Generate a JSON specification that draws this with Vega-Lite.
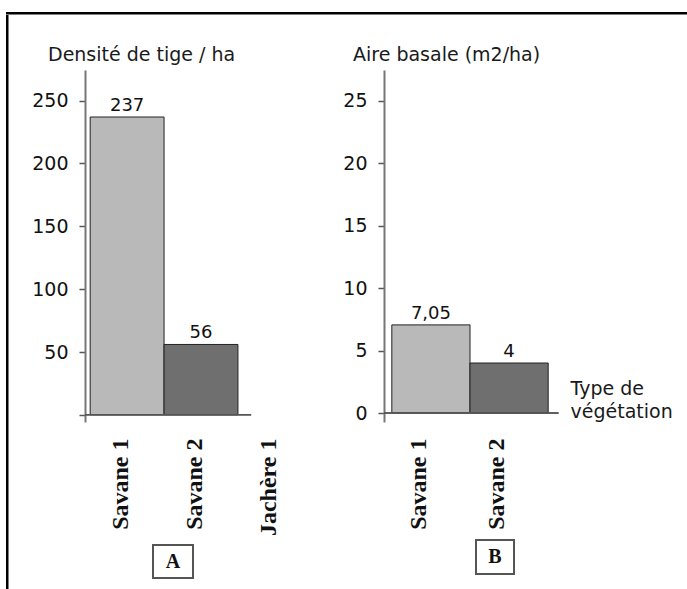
{
  "$schema": "https://vega.github.io/schema/vega-lite/v6.json",
  "padding": {"left": 6, "top": 12, "right": 0, "bottom": 0},
  "background": "white",
  "config": {
    "locale": {"number": {"decimal": ",", "thousands": " ", "grouping": [3], "currency": ["", " €"]}},
    "font": "DejaVu Sans",
    "view": {"stroke": null},
    "concat": {"spacing": 0}
  },
  "vconcat": [
    {
      "width": 681, "height": 2.5,
      "view": {"fill": "black", "stroke": null},
      "data": {"values": []},
      "mark": "text",
      "encoding": {}
    },
    {
      "spacing": 22,
      "hconcat": [
        {
          "width": 2.5, "height": 575,
          "view": {"fill": "black", "stroke": null},
          "data": {"values": []},
          "mark": "text",
          "encoding": {}
        },
        {
          "spacing": 30,
          "vconcat": [
            {
              "width": 1, "height": 1,
              "data": {"values": []},
              "mark": "text",
              "encoding": {}
            },
            {
              "spacing": 25,
              "hconcat": [
                {
                  "spacing": 8,
                  "vconcat": [
                    {
                      "width": 232, "height": 352,
                      "title": {"text": "Densité de tige / ha", "anchor": "start", "frame": "group", "dx": -37, "offset": -10, "baseline": "alphabetic", "font": "DejaVu Sans", "fontSize": 19, "fontWeight": "normal", "color": "#1a1a1a"},
                      "data": {"values": [
                        {"type": "Savane 1", "densite": 237},
                        {"type": "Savane 2", "densite": 56}
                      ]},
                      "resolve": {"scale": {"x": "independent"}},
                      "layer": [
                        {
                          "encoding": {
                            "x": {"field": "type", "type": "nominal", "sort": null,
                              "scale": {"domain": ["Savane 1", "Savane 2", "Jachère 1"], "paddingInner": 0, "paddingOuter": 0.07},
                              "axis": {"title": null, "domain": false, "ticks": false, "labelAngle": 270, "labelAlign": "right", "labelBaseline": "middle", "labelPadding": 16, "labelOffset": -6, "labelFont": "Liberation Serif", "labelFontWeight": "bold", "labelFontSize": 24, "labelColor": "#111"}},
                            "y": {"field": "densite", "type": "quantitative",
                              "scale": {"domain": [-5.7, 274.4], "nice": false, "zero": false},
                              "axis": {"title": null, "grid": false, "values": [0, 50, 100, 150, 200, 250], "labelExpr": "datum.value === 0 ? '' : datum.label", "domainColor": "#777", "domainWidth": 2, "tickColor": "#555", "tickWidth": 1.5, "tickSize": 6, "labelPadding": 11, "labelFont": "DejaVu Sans", "labelFontSize": 19, "labelColor": "#111"}}
                          },
                          "layer": [
                            {
                              "mark": {"type": "bar", "stroke": "#222", "strokeWidth": 1},
                              "encoding": {
                                "y2": {"datum": 0},
                                "color": {"field": "type", "type": "nominal", "scale": {"domain": ["Savane 1", "Savane 2"], "range": ["#b9b9b9", "#6f6f6f"]}, "legend": null}
                              }
                            },
                            {
                              "mark": {"type": "text", "baseline": "alphabetic", "dy": -6, "font": "DejaVu Sans", "fontSize": 18, "color": "#111"},
                              "encoding": {
                                "text": {"field": "densite", "type": "quantitative", "format": "~g"}
                              }
                            }
                          ]
                        },
                        {
                          "mark": {"type": "rule", "color": "#555", "strokeWidth": 1.5},
                          "encoding": {
                            "x": {"datum": 0, "type": "quantitative", "scale": {"domain": [0, 1]}, "axis": null},
                            "x2": {"datum": 0.716},
                            "y": {"datum": 0, "type": "quantitative"}
                          }
                        }
                      ]
                    },
                    {
                      "hconcat": [
                        {
                          "width": 67, "height": 1,
                          "data": {"values": []},
                          "mark": "text",
                          "encoding": {}
                        },
                        {
                          "width": 40, "height": 33,
                          "view": {"stroke": "#555", "strokeWidth": 2, "fill": "white"},
                          "data": {"values": [{"label": "A"}]},
                          "mark": {"type": "text", "font": "Liberation Serif", "fontWeight": "bold", "fontSize": 20, "color": "#111", "baseline": "middle", "align": "center"},
                          "encoding": {"text": {"field": "label"}}
                        }
                      ]
                    }
                  ]
                },
                {
                  "spacing": 9,
                  "vconcat": [
                    {
                      "width": 172, "height": 352,
                      "title": {"text": "Aire basale (m2/ha)", "anchor": "start", "frame": "group", "dx": -31, "offset": -10, "baseline": "alphabetic", "font": "DejaVu Sans", "fontSize": 19, "fontWeight": "normal", "color": "#1a1a1a"},
                      "data": {"values": [
                        {"type": "Savane 1", "aire": 7.05},
                        {"type": "Savane 2", "aire": 4}
                      ]},
                      "resolve": {"scale": {"x": "independent"}},
                      "layer": [
                        {
                          "encoding": {
                            "x": {"field": "type", "type": "nominal", "sort": null,
                              "scale": {"domain": ["Savane 1", "Savane 2"], "paddingInner": 0, "paddingOuter": 0.1},
                              "axis": {"title": ["Type de", "végétation"], "titleAngle": 0, "titleAlign": "left", "titleBaseline": "alphabetic", "titleX": 186, "titleY": -28, "titleFont": "DejaVu Sans", "titleFontSize": 19, "titleFontWeight": "normal", "titleLineHeight": 23, "titleColor": "#1a1a1a",
                                "domain": false, "ticks": false, "labelAngle": 270, "labelAlign": "right", "labelBaseline": "middle", "labelPadding": 16, "labelOffset": -12, "labelFont": "Liberation Serif", "labelFontWeight": "bold", "labelFontSize": 24, "labelColor": "#111"}},
                            "y": {"field": "aire", "type": "quantitative",
                              "scale": {"domain": [-0.72, 27.44], "nice": false, "zero": false},
                              "axis": {"title": null, "grid": false, "values": [0, 5, 10, 15, 20, 25], "domainColor": "#777", "domainWidth": 2, "tickColor": "#555", "tickWidth": 1.5, "tickSize": 6, "labelPadding": 11, "labelFont": "DejaVu Sans", "labelFontSize": 19, "labelColor": "#111"}}
                          },
                          "layer": [
                            {
                              "mark": {"type": "bar", "stroke": "#222", "strokeWidth": 1},
                              "encoding": {
                                "y2": {"datum": 0},
                                "color": {"field": "type", "type": "nominal", "scale": {"domain": ["Savane 1", "Savane 2"], "range": ["#b9b9b9", "#6f6f6f"]}, "legend": null}
                              }
                            },
                            {
                              "mark": {"type": "text", "baseline": "alphabetic", "dy": -6, "font": "DejaVu Sans", "fontSize": 18, "color": "#111"},
                              "encoding": {
                                "text": {"field": "aire", "type": "quantitative", "format": "~g"}
                              }
                            }
                          ]
                        },
                        {
                          "mark": {"type": "rule", "color": "#555", "strokeWidth": 1.5},
                          "encoding": {
                            "x": {"datum": 0, "type": "quantitative", "scale": {"domain": [0, 1]}, "axis": null},
                            "x2": {"datum": 1.015},
                            "y": {"datum": 0, "type": "quantitative"}
                          }
                        }
                      ]
                    },
                    {
                      "hconcat": [
                        {
                          "width": 91, "height": 1,
                          "data": {"values": []},
                          "mark": "text",
                          "encoding": {}
                        },
                        {
                          "width": 38, "height": 34,
                          "view": {"stroke": "#555", "strokeWidth": 2, "fill": "white"},
                          "data": {"values": [{"label": "B"}]},
                          "mark": {"type": "text", "font": "Liberation Serif", "fontWeight": "bold", "fontSize": 20, "color": "#111", "baseline": "middle", "align": "center"},
                          "encoding": {"text": {"field": "label"}}
                        }
                      ]
                    }
                  ]
                }
              ]
            }
          ]
        }
      ]
    }
  ]
}
